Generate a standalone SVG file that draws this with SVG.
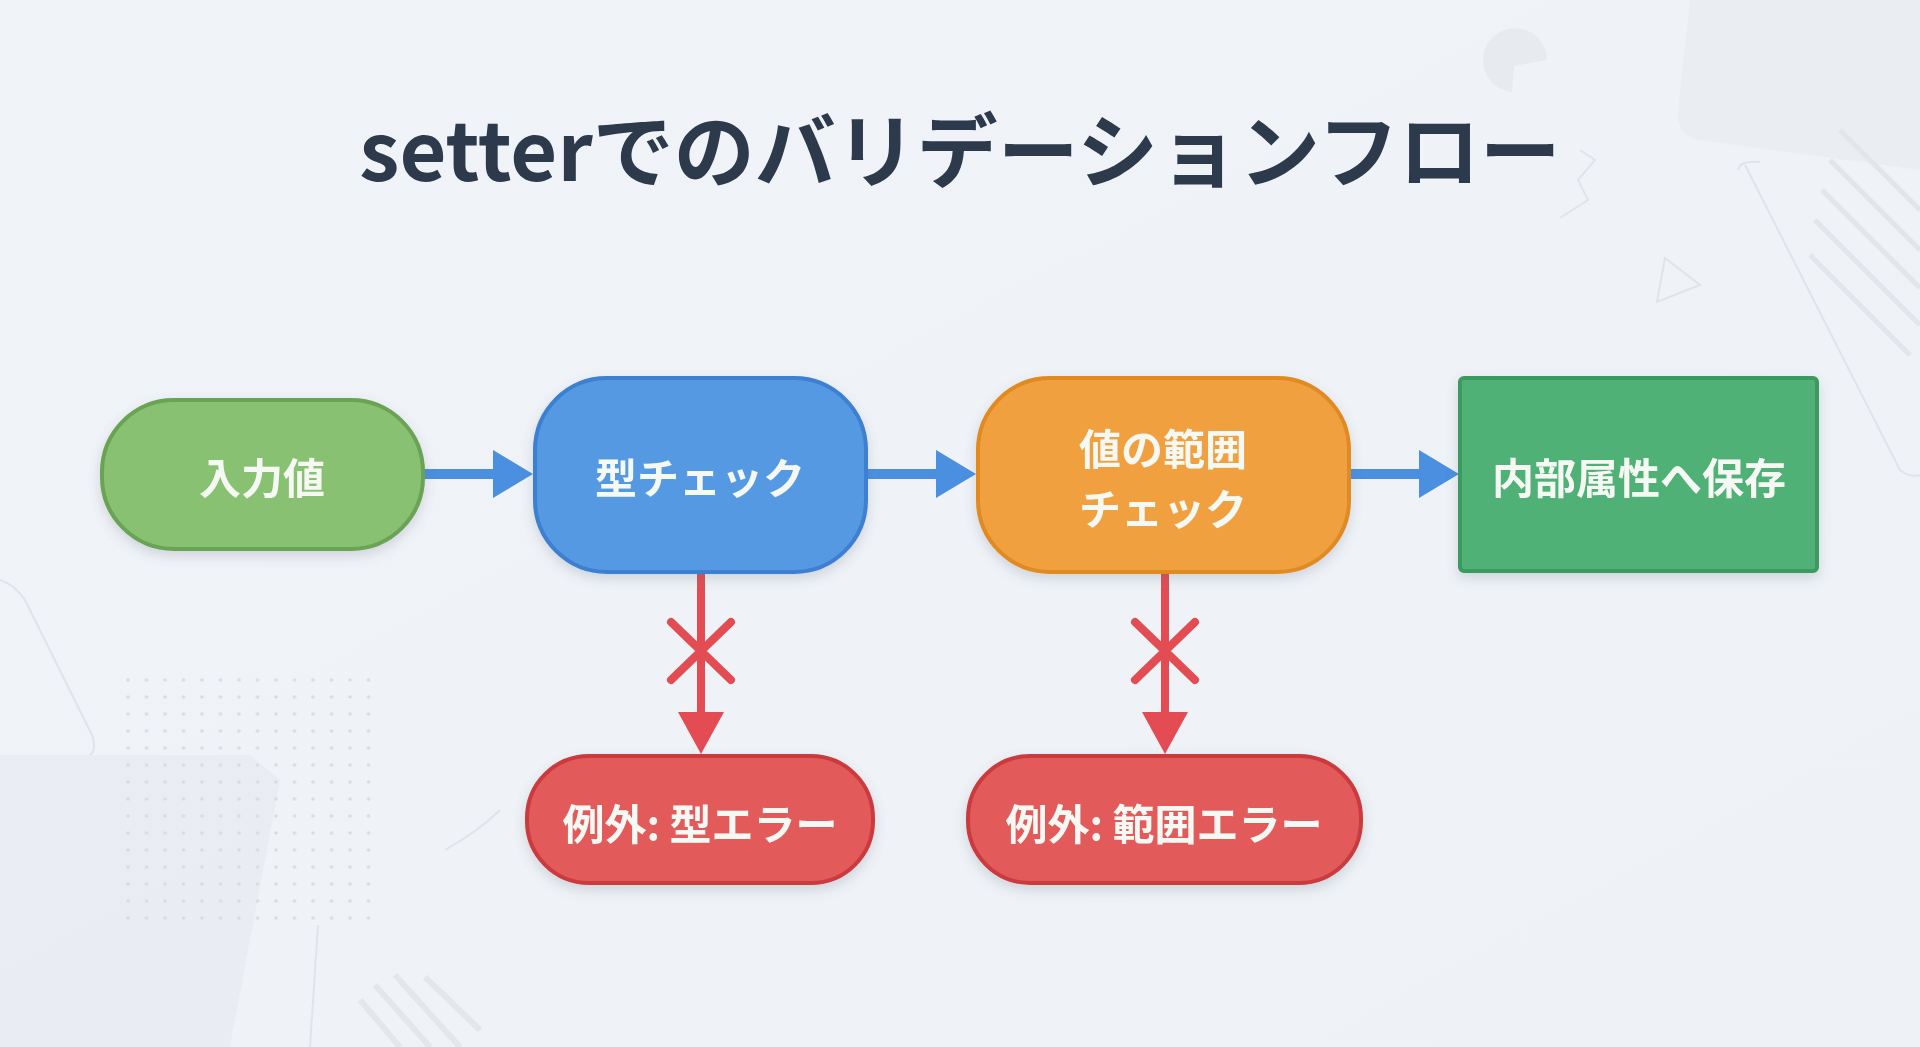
<svg xmlns="http://www.w3.org/2000/svg" width="1920" height="1047" viewBox="0 0 1920 1047">
  <defs>
    <linearGradient id="bg" x1="0" y1="0" x2="1" y2="1">
      <stop offset="0" stop-color="#f0f3f7"/>
      <stop offset="1" stop-color="#eef2f6"/>
    </linearGradient>
    <filter id="shadow" x="-20%" y="-20%" width="140%" height="150%">
      <feDropShadow dx="0" dy="5" stdDeviation="6" flood-color="#5a6a80" flood-opacity="0.22"/>
    </filter>
    <pattern id="dots" x="128" y="680" width="18.5" height="17" patternUnits="userSpaceOnUse">
      <circle cx="0" cy="0" r="1.8" fill="#d3d8df"/>
      <circle cx="18.5" cy="0" r="1.8" fill="#d3d8df"/>
      <circle cx="0" cy="17" r="1.8" fill="#d3d8df"/>
      <circle cx="18.5" cy="17" r="1.8" fill="#d3d8df"/>
    </pattern>
    <style>
      .title { font-family: "Noto Sans CJK JP", "Noto Sans", sans-serif; font-weight: 700; font-size: 81px; fill: #2c3a4c; }
      .lbl { font-family: "Noto Sans CJK JP", "Noto Sans", sans-serif; font-weight: 700; font-size: 42px; fill: #f6f9f3; text-anchor: middle; dominant-baseline: central; }
      .node { stroke-width: 4; filter: url(#shadow); }
      .blue-line { stroke: #4a8fe0; stroke-width: 10; fill: none; }
      .blue-head { fill: #4a8fe0; }
      .red-line { stroke: #e24c52; stroke-width: 8; fill: none; stroke-linecap: round; }
      .red-x { stroke: #e24c52; stroke-width: 8; fill: none; stroke-linecap: round; }
      .red-head { fill: #e24c52; }
      .deco { fill: #e4e8ed; }
      .deco-line { fill: none; stroke: #dde2e8; stroke-width: 2; }
    </style>
  </defs>

  <!-- background -->
  <rect x="0" y="0" width="1920" height="1047" fill="url(#bg)"/>
  <g id="background-decor" opacity="0.85">
    <path class="deco" d="M1690 0 L1920 0 L1920 170 L1700 140 Q1676 136 1678 110 Z" opacity="0.5"/>
    <path class="deco-line" d="M1745 165 L1900 470 Q1910 478 1920 475"/>
    <path class="deco-line" d="M1738 170 Q1740 160 1760 162"/>
    <g stroke="#dfe3e8" stroke-width="5">
      <line x1="1840" y1="130" x2="1920" y2="210"/>
      <line x1="1830" y1="160" x2="1920" y2="250"/>
      <line x1="1822" y1="190" x2="1920" y2="288"/>
      <line x1="1815" y1="220" x2="1920" y2="325"/>
      <line x1="1810" y1="255" x2="1910" y2="355"/>
    </g>
    <path d="M1547 60 A32 32 0 1 0 1512 92 L1514 66 Z" fill="#e6e9ed"/>
    <path d="M1665 258 L1700 285 L1657 302 Z" fill="none" stroke="#dde1e6" stroke-width="2"/>
    <path d="M1580 150 L1595 160 L1578 180 L1588 200 L1560 218" class="deco-line"/>
    <path class="deco" d="M0 755 L250 755 L280 780 L230 1047 L0 1047 Z" opacity="0.55"/>
    <path class="deco-line" d="M0 580 Q15 585 25 600 L92 735 Q97 750 90 755"/>
    <path class="deco-line" d="M318 925 L310 1047"/>
    <path class="deco-line" d="M445 850 Q480 830 500 810"/>
    <g stroke="#e1e5ea" stroke-width="6">
      <line x1="360" y1="1000" x2="400" y2="1047"/>
      <line x1="375" y1="985" x2="430" y2="1047"/>
      <line x1="395" y1="975" x2="460" y2="1047"/>
      <line x1="425" y1="977" x2="480" y2="1030"/>
    </g>
    <rect x="122" y="674" width="254" height="252" fill="url(#dots)"/>
  </g>

  <!-- title -->
  <text class="title" x="960" y="181" text-anchor="middle">setterでのバリデーションフロー</text>

  <!-- connectors -->
  <g id="connectors">
    <line class="blue-line" x1="423" y1="474" x2="497" y2="474"/>
    <polygon class="blue-head" points="493,450 533,474 493,498"/>
    <line class="blue-line" x1="866" y1="474" x2="940" y2="474"/>
    <polygon class="blue-head" points="936,450 976,474 936,498"/>
    <line class="blue-line" x1="1349" y1="474" x2="1423" y2="474"/>
    <polygon class="blue-head" points="1419,450 1459,474 1419,498"/>

    <line class="red-line" x1="701" y1="574" x2="701" y2="716"/>
    <path class="red-x" d="M671 622 L731 680 M731 622 L671 680"/>
    <polygon class="red-head" points="678,712 724,712 701,754"/>

    <line class="red-line" x1="1165" y1="574" x2="1165" y2="716"/>
    <path class="red-x" d="M1135 622 L1195 680 M1195 622 L1135 680"/>
    <polygon class="red-head" points="1142,712 1188,712 1165,754"/>
  </g>

  <!-- nodes -->
  <g id="node-input">
    <rect class="node" x="102" y="400" width="321" height="149" rx="72" ry="72" fill="#88c172" stroke="#6aa353"/>
    <text class="lbl" x="262" y="475">入力値</text>
  </g>
  <g id="node-typecheck">
    <rect class="node" x="535" y="378" width="331" height="194" rx="72" ry="72" fill="#5499e2" stroke="#3c7fd1"/>
    <text class="lbl" x="700" y="475">型チェック</text>
  </g>
  <g id="node-rangecheck">
    <rect class="node" x="978" y="378" width="371" height="194" rx="72" ry="72" fill="#f1a03f" stroke="#e08a22"/>
    <text class="lbl" x="1163" y="446">値の範囲</text>
    <text class="lbl" x="1163" y="506">チェック</text>
  </g>
  <g id="node-store">
    <rect class="node" x="1460" y="378" width="357" height="193" rx="4" ry="4" fill="#4fb176" stroke="#3b9a5d"/>
    <text class="lbl" x="1639" y="475">内部属性へ保存</text>
  </g>
  <g id="node-typeerror">
    <rect class="node" x="527" y="756" width="346" height="127" rx="62" ry="62" fill="#e25a5a" stroke="#cb3a3c"/>
    <text class="lbl" x="700" y="821">例外: 型エラー</text>
  </g>
  <g id="node-rangeerror">
    <rect class="node" x="968" y="756" width="393" height="127" rx="62" ry="62" fill="#e25a5a" stroke="#cb3a3c"/>
    <text class="lbl" x="1164" y="821">例外: 範囲エラー</text>
  </g>
</svg>
